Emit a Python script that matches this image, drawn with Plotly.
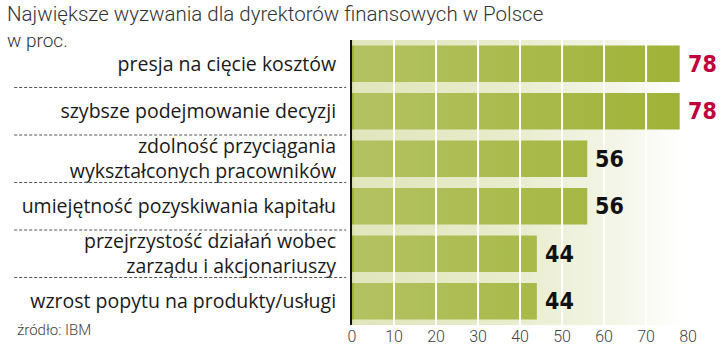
import base64
import plotly.graph_objects as go

# ---------------- data ----------------
categories = [
    "presja na cięcie kosztów",
    "szybsze podejmowanie decyzji",
    "zdolność przyciągania<br>wykształconych pracowników",
    "umiejętność pozyskiwania kapitału",
    "przejrzystość działań wobec<br>zarządu i akcjonariuszy",
    "wzrost popytu na produkty/usługi",
]
values = [78, 78, 56, 56, 44, 44]
label_colors = ["#c0003c", "#c0003c", "#111111", "#111111", "#111111", "#111111"]
tick_values = [0, 10, 20, 30, 40, 50, 60, 70, 80]
title_text = "Największe wyzwania dla dyrektorów finansowych w Polsce"
subtitle_text = "w proc."
source_text = "źródło: IBM"

# ---------------- helpers ----------------
def svg_uri(svg):
    return "data:image/svg+xml;base64," + base64.b64encode(svg.encode("utf-8")).decode("ascii")

bg_svg = (
    '<svg xmlns="http://www.w3.org/2000/svg" width="400" height="100" preserveAspectRatio="none">'
    '<defs><linearGradient id="g" x1="0" y1="0" x2="1" y2="0">'
    '<stop offset="0" stop-color="#d9dfaa"/>'
    '<stop offset="0.4" stop-color="#e4e9c3"/>'
    '<stop offset="0.7" stop-color="#f2f4e4"/>'
    '<stop offset="0.9" stop-color="#ffffff"/>'
    '</linearGradient></defs>'
    '<rect width="400" height="100" fill="url(#g)"/></svg>'
)
ov_svg = (
    '<svg xmlns="http://www.w3.org/2000/svg" width="400" height="100" preserveAspectRatio="none">'
    '<defs><linearGradient id="h" x1="0" y1="0" x2="1" y2="0">'
    '<stop offset="0" stop-color="#ffffff" stop-opacity="0.22"/>'
    '<stop offset="1" stop-color="#ffffff" stop-opacity="0"/>'
    '</linearGradient></defs>'
    '<rect width="400" height="100" fill="url(#h)"/></svg>'
)

fig = go.Figure()
fig.add_trace(go.Bar(
    x=values,
    y=categories,
    orientation="h",
    marker=dict(color="#9fb236", line=dict(width=0)),
    hoverinfo="x+y",
))

# value labels
annotations = []
for c, v, col in zip(categories, values, label_colors):
    annotations.append(dict(
        x=v, y=c, xref="x", yref="y", text=str(v), showarrow=False,
        xanchor="left", yanchor="middle", xshift=6,
        font=dict(family="Liberation Sans Narrow, DejaVu Sans Condensed, Arial Narrow, sans-serif",
                  size=23, color=col, weight="bold"),
    ))

annotations += [
    dict(x=-0.943, y=1.14, xref="paper", yref="paper", text=title_text, showarrow=False,
         xanchor="left", yanchor="top",
         font=dict(family="Roboto, sans-serif", size=20.5, color="#333333", weight=300)),
    dict(x=-0.943, y=1.045, xref="paper", yref="paper", text=subtitle_text, showarrow=False,
         xanchor="left", yanchor="top",
         font=dict(family="Roboto, sans-serif", size=19, color="#333333", weight=300)),
    dict(x=-0.916, y=-0.0175, xref="paper", yref="paper", text=source_text, showarrow=False,
         xanchor="left", yanchor="middle",
         font=dict(family="Roboto, sans-serif", size=15, color="#444444", weight=300)),
]

shapes = []
# white vertical grid lines drawn above bars
for t in tick_values[1:]:
    shapes.append(dict(type="line", xref="x", yref="paper", x0=t, x1=t, y0=0, y1=1,
                       line=dict(color="#ffffff", width=2), layer="above"))
# dashed separators between category labels
for i in range(len(categories) - 1):
    shapes.append(dict(type="line", xref="paper", yref="y", x0=-0.918, x1=-0.016,
                       y0=i + 0.5, y1=i + 0.5,
                       line=dict(color="#555555", width=1, dash="3px,2px"), layer="above"))

fig.update_layout(
    width=720, height=345,
    margin=dict(l=352, r=0, t=40, b=20),
    paper_bgcolor="#ffffff",
    plot_bgcolor="rgba(0,0,0,0)",
    bargap=0.23,
    showlegend=False,
    annotations=annotations,
    shapes=shapes,
    images=[
        dict(source=svg_uri(bg_svg), xref="paper", yref="paper", x=0, y=1, sizex=1, sizey=1,
             sizing="stretch", xanchor="left", yanchor="top", layer="below"),
        dict(source=svg_uri(ov_svg), xref="x", yref="paper", x=0.4, y=1, sizex=80, sizey=1,
             sizing="stretch", xanchor="left", yanchor="top", layer="above"),
    ],
    xaxis=dict(
        range=[0, 87.6], tickvals=tick_values, showgrid=False, zeroline=False,
        showline=False, ticks="", fixedrange=True,
        tickfont=dict(family="Roboto, sans-serif", size=16, color="#444444", weight=300),
    ),
    yaxis=dict(
        categoryorder="array", categoryarray=categories, autorange="reversed",
        showgrid=False, zeroline=False, showline=True, linecolor="#111111", linewidth=2,
        ticks="", ticklabelstandoff=10, fixedrange=True,
        tickfont=dict(family="Open Sans, sans-serif", size=19.5, color="#1a1a1a"),
    ),
)

fig.write_html("out.html")
